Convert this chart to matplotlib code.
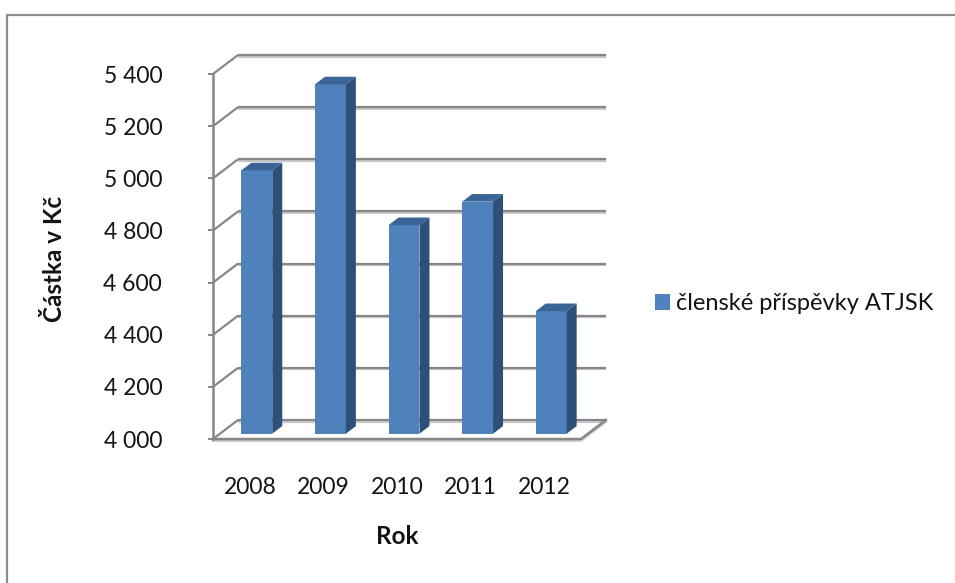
import matplotlib
matplotlib.use("Agg")
import matplotlib.pyplot as plt
from matplotlib.patches import Polygon
from matplotlib.lines import Line2D
import matplotlib.patheffects as pe

years = ["2008", "2009", "2010", "2011", "2012"]
values = [5010, 5340, 4800, 4890, 4470]
series_name = "členské příspěvky ATJSK"
y_ticks = [4000, 4200, 4400, 4600, 4800, 5000, 5200, 5400]
y_tick_labels = ["4 000", "4 200", "4 400", "4 600", "4 800", "5 000", "5 200", "5 400"]
y_title = "Částka v Kč"
x_title = "Rok"

W, H = 955, 583
FONT = ["Lato", "DejaVu Sans"]
plt.rcParams["font.family"] = FONT
TXT = "#141414"

fig = plt.figure(figsize=(W / 100, H / 100), dpi=100)
# axes spans the front plane plus the depth of the back wall
ax_l, ax_r, ax_t, ax_b = 213, 606, 55, 439
ax = fig.add_axes([ax_l / W, 1 - ax_b / H, (ax_r - ax_l) / W, (ax_b - ax_t) / H])

ymin, ymax = y_ticks[0], y_ticks[-1]
n = len(years)
DX = 0.34          # depth offset in category units
DY = 73.0          # depth offset in value units
ax.set_xlim(-0.5, n - 0.5 + DX)
ax.set_ylim(ymin, ymax + DY)
for s in ax.spines.values():
    s.set_visible(False)

grid_c = "#878787"
shadow = [pe.SimpleLineShadow(offset=(0, -1.2), shadow_color="#c8c8c8", alpha=1), pe.Normal()]

# back wall gridlines and left wall diagonals
for v in y_ticks:
    ax.add_line(Line2D([-0.5 + DX, n - 0.5 + DX], [v + DY, v + DY], color=grid_c, lw=1.6,
                       zorder=1, clip_on=False, path_effects=shadow, solid_capstyle="butt"))
    ax.add_line(Line2D([-0.5, -0.5 + DX], [v, v + DY], color=grid_c, lw=1.6,
                       zorder=1, clip_on=False, solid_capstyle="butt"))
# floor
ax.add_line(Line2D([-0.5, n - 0.5, n - 0.5 + DX], [ymin, ymin, ymin + DY], color=grid_c,
                   lw=1.8, zorder=1, clip_on=False, path_effects=shadow))
# front vertical axis
ax.add_line(Line2D([-0.5, -0.5], [ymin, ymax], color=grid_c, lw=1.8, zorder=2, clip_on=False))

# y ticks (front axis)
ax.set_yticks(y_ticks)
ax.set_yticklabels(y_tick_labels)
ax.tick_params(axis="y", length=3.6, width=1.4, color=grid_c, pad=33, labelsize=16.5,
               labelcolor=TXT)
ax.yaxis.set_ticks_position("left")
# x ticks
ax.set_xticks(range(n))
ax.set_xticklabels(years)
ax.tick_params(axis="x", length=0, pad=27, labelsize=16.5, labelcolor=TXT)

# bars
f0, f1 = 0.28, 0.68
w = 0.42
front_c, side_c, top_c = "#4F81BD", "#2D5079", "#3A6496"
xs = [i + f0 * DX for i in range(n)]
bars = ax.bar(xs, [v - ymin for v in values], width=w, bottom=ymin + f0 * DY,
              color=front_c, zorder=3, label=series_name, linewidth=0)
for i, v in enumerate(values):
    xr = i + w / 2
    xl = i - w / 2
    side = Polygon([(xr + f0 * DX, ymin + f0 * DY), (xr + f1 * DX, ymin + f1 * DY),
                    (xr + f1 * DX, v + f1 * DY), (xr + f0 * DX, v + f0 * DY)],
                   closed=True, facecolor=side_c, edgecolor="none", zorder=3)
    top = Polygon([(xl + f0 * DX, v + f0 * DY), (xr + f0 * DX, v + f0 * DY),
                   (xr + f1 * DX, v + f1 * DY), (xl + f1 * DX, v + f1 * DY)],
                  closed=True, facecolor=top_c, edgecolor="none", zorder=3)
    ax.add_patch(side)
    ax.add_patch(top)

# titles
fig.text(55 / W, 1 - 259 / H, y_title, rotation=90, ha="center", va="center",
         fontsize=17.5, fontweight="bold", color=TXT)
fig.text(397 / W, 1 - 536 / H, x_title, ha="center", va="center",
         fontsize=17.5, fontweight="bold", color=TXT)

# legend
fig.legend(handles=[bars], labels=[series_name], loc="center left",
           bbox_to_anchor=(655 / W, 1 - 304 / H), frameon=False, fontsize=17,
           handlelength=0.64, handleheight=0.64, handletextpad=0.26, borderpad=0,
           borderaxespad=0, labelcolor=TXT)

# outer frame (top and left edges visible)
fig.add_artist(Line2D([7 / W, 7 / W, 1.0], [0, 1 - 15 / H, 1 - 15 / H],
                      transform=fig.transFigure, color="#8c8c8c", lw=1.6))

fig.savefig("out.png", dpi=100)
